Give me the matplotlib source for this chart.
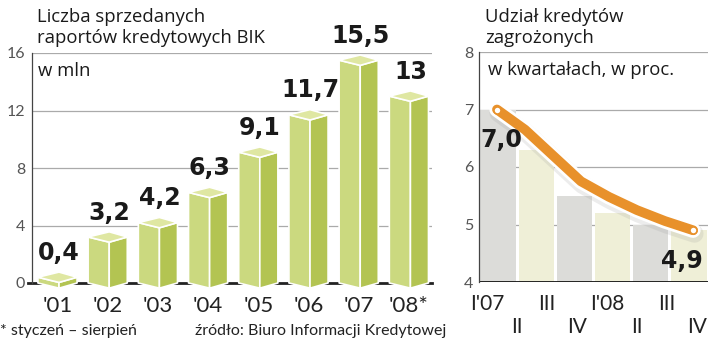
import numpy as np
import matplotlib.pyplot as plt
from matplotlib.patches import Polygon

# left chart: sold BIK credit reports, millions
years = ["'01", "'02", "'03", "'04", "'05", "'06", "'07", "'08*"]
reports = [0.4, 3.2, 4.2, 6.3, 9.1, 11.7, 15.5, 13.0]
report_labels = ["0,4", "3,2", "4,2", "6,3", "9,1", "11,7", "15,5", "13"]

# right chart: share of bad loans, quarterly, %
quarters = ["I'07", "II", "III", "IV", "I'08", "II", "III", "IV"]
bad_loans = [7.0, 6.65, 6.2, 5.75, 5.48, 5.25, 5.06, 4.9]
column_tops = [7.0, 6.3, 5.5, 5.2, 5.0, 4.9]

W, H = 720, 342
light = 'Lato'

def px(x, y):
    return x / W, 1 - y / H

fig = plt.figure(figsize=(W / 100, H / 100), dpi=100)
fig.patch.set_facecolor('white')

# ---------------- left chart ----------------
ax = fig.add_axes([32 / W, (H - 283) / H, 400 / W, 230 / H])
ax.set_xlim(-0.508, 7.46)
ax.set_ylim(0, 16)
for s in ['top', 'right', 'bottom']:
    ax.spines[s].set_visible(False)
ax.spines['left'].set_color('#444444')
ax.spines['left'].set_linewidth(0.9)
ax.set_yticks([0, 4, 8, 12, 16])
ax.set_yticklabels(['0', '4', '8', '12', '16'], family=light,
                   fontsize=11.5, color='#555555')
ax.tick_params(axis='y', length=0, pad=5)
ax.set_xticks(range(len(years)))
ax.set_xticklabels(years, family=light, fontsize=16, color='#222222')
ax.tick_params(axis='x', length=0, pad=9)
for g in [4, 8, 12, 16]:
    ax.axhline(g, color='#aaaaaa', lw=0.9, zorder=0)
ax.plot([-0.59, 7.46], [0, 0], color='#222222', lw=2, zorder=1, clip_on=False)

hw, split, d = 0.39, 0.03, 0.36
for i, v in enumerate(reports):
    xl, xm, xr = i - hw, i + split, i + hw
    front = [(xl, 0), (xm, -d), (xm, v - d), (xl, v)]
    side = [(xm, -d), (xr, 0), (xr, v), (xm, v - d)]
    top = [(xl, v), (xm, v - d), (xr, v), (xm, v + d)]
    for pts, col in [(front, '#cbd97f'), (side, '#b3c452'), (top, '#dfe7a2')]:
        ax.add_patch(Polygon(pts, closed=True, facecolor=col, edgecolor='white',
                             lw=1.2, joinstyle='round', zorder=3, clip_on=False))
    ax.text(xm, v + d + 0.85, report_labels[i], ha='center', va='baseline',
            fontsize=17, fontweight='bold', color='#1a1a1a', zorder=4)

tfont = dict(fontsize=13.3, family='Open Sans', color='#1a1a1a')
fig.text(*px(37, 22), 'Liczba sprzedanych', **tfont)
fig.text(*px(37, 43), 'raportów kredytowych BIK', **tfont)
fig.text(*px(38, 76), 'w mln', **tfont)
fig.text(*px(0, 335), '* styczeń – sierpień', fontsize=11.5, family=light, color='#222222')
fig.text(*px(195, 335), 'źródło: Biuro Informacji Kredytowej', fontsize=11.5, family=light,
         color='#222222')

# ---------------- right chart ----------------
ax2 = fig.add_axes([479 / W, (H - 282) / H, 229 / W, 230 / H])
ax2.set_xlim(-0.27, 7.37)
ax2.set_ylim(4, 8)
for s in ['top', 'right', 'bottom']:
    ax2.spines[s].set_visible(False)
ax2.spines['left'].set_color('#444444')
ax2.spines['left'].set_linewidth(0.9)
ax2.set_yticks([4, 5, 6, 7, 8])
ax2.set_yticklabels(['4', '5', '6', '7', '8'], family=light,
                    fontsize=11.5, color='#555555')
ax2.tick_params(axis='y', length=0, pad=4)
ax2.set_xticks(range(len(quarters)))
ax2.set_xticklabels([q if i % 2 == 0 else '\n' + q for i, q in enumerate(quarters)],
                    family=light, fontsize=15, color='#222222',
                    linespacing=1.15, va='top')
ax2.tick_params(axis='x', length=0, pad=9)

edges = np.linspace(-0.27, 7.37, len(column_tops) + 1)
col_w = edges[1] - edges[0]
col_colors = ['#dcdcd9', '#efefd7'] * 3
ax2.bar(edges[:-1] + col_w / 2, np.array(column_tops) - 4, bottom=4, width=col_w - 0.1,
        color=col_colors, zorder=1)
for g in [5, 6, 7, 8]:
    ax2.axhline(g, color='#aaaaaa', lw=0.9, zorder=0.5)
ax2.axhline(4, color='#111111', lw=2, zorder=2)

lx = np.linspace(0.33, 6.87, len(bad_loans))
ax2.plot(lx + 0.05, np.array(bad_loans) - 0.06, color='#999999', lw=13, alpha=0.18,
         solid_capstyle='round', solid_joinstyle='round', zorder=3)
ax2.plot(lx, bad_loans, color='white', lw=11, solid_capstyle='round',
         solid_joinstyle='round', zorder=4)
ax2.plot(lx, bad_loans, color='#e8912b', lw=7, solid_capstyle='round',
         solid_joinstyle='round', zorder=5)
ax2.scatter([lx[0], lx[-1]], [bad_loans[0], bad_loans[-1]], s=26, color='white',
            edgecolor='#e8912b', lw=1.2, zorder=6)
ax2.text(0.48, 6.47, '7,0', ha='center', va='center', fontsize=17,
         fontweight='bold', color='#1a1a1a', zorder=7)
ax2.text(6.51, 4.36, '4,9', ha='center', va='center', fontsize=17,
         fontweight='bold', color='#1a1a1a', zorder=7)

fig.text(*px(485, 22), 'Udział kredytów', **tfont)
fig.text(*px(485, 43), 'zagrożonych', **tfont)
fig.text(*px(488, 75), 'w kwartałach, w proc.', **tfont)

fig.savefig('out.png', dpi=100)
